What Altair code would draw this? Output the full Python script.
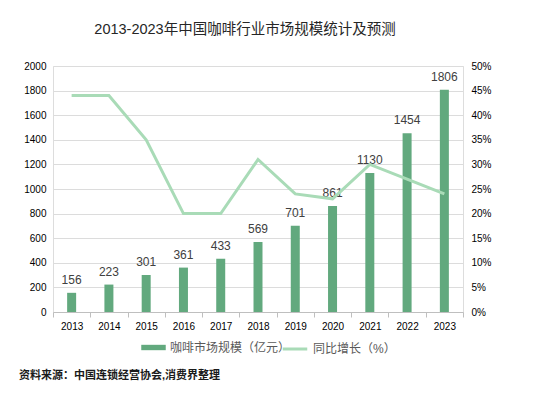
import altair as alt
import pandas as pd

years = ["2013", "2014", "2015", "2016", "2017", "2018", "2019", "2020", "2021", "2022", "2023"]
market = [156, 223, 301, 361, 433, 569, 701, 861, 1130, 1454, 1806]
growth = [44, 44, 35, 20, 20, 31, 24, 23, 30, 27, 24]

title_text = "2013-2023年中国咖啡行业市场规模统计及预测"
bar_name = "咖啡市场规模（亿元）"
line_name = "同比增长（%）"
source_text = ["资料来源：中国连锁经营协会,消费界整理"]

BAR = "#62a97e"
LINE = "#a9dbb7"
FONT = "Liberation Sans, Noto Sans CJK SC, sans-serif"

df = pd.DataFrame({"year": years, "market": market, "growth": [g / 100 for g in growth],
                   "bar_s": bar_name, "line_s": line_name})

x = alt.X("year:N", title=None, sort=years,
          scale=alt.Scale(paddingInner=0, paddingOuter=0),
          axis=alt.Axis(labelAngle=0, domainColor="#bfbfbf", tickColor="#bfbfbf",
                        tickBand="extent", tickSize=5, labelPadding=4, grid=False))

base = alt.Chart(df)

bars = base.mark_bar(size=9, color=BAR).encode(
    x=x,
    y=alt.Y("market:Q", title=None, scale=alt.Scale(domain=[0, 2000]),
            axis=alt.Axis(orient="left", values=list(range(0, 2001, 200)), format="d",
                          labelOverlap=False, domain=False, ticks=False,
                          gridColor="#dcdcdc", labelPadding=7)),
    fill=alt.Fill("bar_s:N", scale=alt.Scale(range=[BAR]),
                  legend=alt.Legend(title=None, orient="none", legendX=88, legendY=269,
                                    symbolType="M-1,-0.22H1V0.22H-1Z", symbolSize=600,
                                    symbolStrokeWidth=0, labelFontSize=12, labelColor="#595959",
                                    labelFont=FONT)),
)

labels = base.mark_text(baseline="bottom", dy=-6, fontSize=12, color="#404040", font=FONT).encode(
    x=x, y=alt.Y("market:Q", scale=alt.Scale(domain=[0, 2000]), axis=None), text="market:Q")

line = base.mark_line(strokeWidth=3, color=LINE).encode(
    x=x,
    y=alt.Y("growth:Q", title=None, scale=alt.Scale(domain=[0, 0.5]),
            axis=alt.Axis(orient="right", format=".0%", values=[i / 100 for i in range(0, 51, 5)],
                          labelOverlap=False, domain=False, ticks=False, grid=False, labelPadding=8)),
    stroke=alt.Stroke("line_s:N", scale=alt.Scale(range=[LINE]),
                      legend=alt.Legend(title=None, orient="none", legendX=228, legendY=269,
                                        symbolType="stroke", symbolStrokeWidth=3, symbolSize=600,
                                        labelFontSize=12, labelColor="#595959", labelFont=FONT)),
)

src = alt.Chart(pd.DataFrame({"t": source_text})).mark_text(
    align="left", baseline="middle", fontSize=11, fontWeight=600, color="#1a1a1a", font=FONT
).encode(x=alt.value(-34), y=alt.value(310), text="t:N")

chart = alt.layer(bars, labels, line, src).resolve_scale(y="independent", fill="independent",
                                                         stroke="independent").properties(
    width=410, height=246,
    title=alt.TitleParams(title_text, fontSize=14.5, fontWeight="normal", color="#262626",
                          font=FONT, anchor="middle", dx=-13, offset=24),
    autosize=alt.AutoSizeParams(type="none"),
    padding={"left": 45, "top": 58, "right": 80, "bottom": 78},
).configure_view(stroke=None).configure_axis(
    labelFontSize=11, labelColor="#595959", labelFont=FONT
).configure(background="white")

chart.save("out.html", embed_options={"renderer": "svg", "actions": False})
